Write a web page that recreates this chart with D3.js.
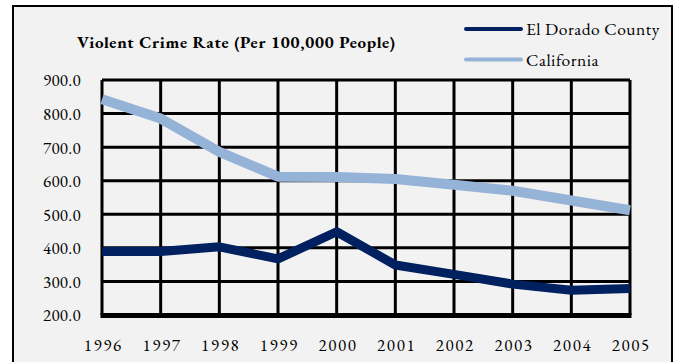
<!DOCTYPE html>
<html>
<head>
<meta charset="utf-8">
<script src="https://cdn.jsdelivr.net/npm/d3@7"></script>
<style>
  html, body { margin: 0; padding: 0; background: #ffffff; }
  svg { display: block; }
</style>
</head>
<body>
<svg id="chart" width="678" height="362"></svg>
<script>
// Violent crime rate per 100,000 people
const years = ["1996", "1997", "1998", "1999", "2000", "2001", "2002", "2003", "2004", "2005"];
const elDorado = [389, 389, 403, 367, 448, 349, 321, 292, 274, 279];
const california = [843, 785, 686, 612, 611, 605, 588, 570, 541, 512];
const yTicks = [200, 300, 400, 500, 600, 700, 800, 900];
const seriesNames = ["El Dorado County", "California"];
const seriesColors = ["#002060", "#95b3d7"];

const FONT = '"EB Garamond", "Liberation Serif", serif';
const svg = d3.select("#chart");

// chart area background and frame
svg.append("rect")
  .attr("x", 13).attr("y", 6).attr("width", 659).attr("height", 370)
  .attr("fill", "#f2f2f2").attr("stroke", "#000").attr("stroke-width", 2);

const plot = { left: 102, right: 630, top: 80, bottom: 315 };

const x = d3.scalePoint().domain(years).range([plot.left, plot.right]);
const y = d3.scaleLinear().domain([200, 900]).range([plot.bottom, plot.top]);

// gridlines
const grid = svg.append("g");
grid.selectAll("line.h").data(yTicks).join("line")
  .attr("x1", plot.left).attr("x2", plot.right)
  .attr("y1", d => y(d)).attr("y2", d => y(d))
  .attr("stroke", "#000").attr("stroke-width", 3);
grid.selectAll("line.v").data(years).join("line")
  .attr("y1", plot.top).attr("y2", plot.bottom)
  .attr("x1", d => x(d)).attr("x2", d => x(d))
  .attr("stroke", "#000").attr("stroke-width", 3);

// heavier baseline
svg.append("line")
  .attr("x1", plot.left - 1.5).attr("x2", plot.right + 1.5)
  .attr("y1", y(200) + 0.5).attr("y2", y(200) + 0.5)
  .attr("stroke", "#000").attr("stroke-width", 5);

// y axis labels
const yAxis = d3.axisLeft(y).tickValues(yTicks).tickSize(0).tickPadding(21)
  .tickFormat(d3.format(".1f"));
const gy = svg.append("g").attr("transform", `translate(${plot.left},0)`).call(yAxis);
gy.select(".domain").remove();
gy.selectAll("text").style("font-family", FONT).style("font-size", "17px")
  .style("letter-spacing", "0.3px").attr("dy", "0.35em");

// x axis labels
const xAxis = d3.axisBottom(x).tickSize(0).tickPadding(24);
const gx = svg.append("g").attr("transform", `translate(0,${plot.bottom})`).call(xAxis);
gx.select(".domain").remove();
gx.selectAll("text").style("font-family", FONT).style("font-size", "17px")
  .style("letter-spacing", "1.6px").attr("dx", "0.8px");

// series lines
const line = d3.line().x((d, i) => x(years[i])).y(d => y(d));
svg.append("path").datum(california)
  .attr("d", line).attr("fill", "none")
  .attr("stroke", seriesColors[1]).attr("stroke-width", 10).attr("stroke-linejoin", "round");
svg.append("path").datum(elDorado)
  .attr("d", line).attr("fill", "none")
  .attr("stroke", seriesColors[0]).attr("stroke-width", 9).attr("stroke-linejoin", "round");

// title
svg.append("text")
  .attr("x", 77).attr("y", 48)
  .attr("textLength", 318).attr("lengthAdjust", "spacing")
  .style("font-family", FONT).style("font-size", "17px").style("font-weight", "bold")
  .text("Violent Crime Rate  (Per 100,000 People)");

// legend
const legend = svg.append("g");
seriesNames.forEach((name, i) => {
  const ly = 29 + i * 30.5;
  legend.append("line")
    .attr("x1", 466).attr("x2", 521).attr("y1", ly).attr("y2", ly)
    .attr("stroke", seriesColors[i]).attr("stroke-width", 4).attr("stroke-linecap", "round");
  legend.append("text")
    .attr("x", 526).attr("y", ly + 6)
    .style("font-family", FONT).style("font-size", "17.5px").style("letter-spacing", "0.5px")
    .text(name);
});
</script>
</body>
</html>
